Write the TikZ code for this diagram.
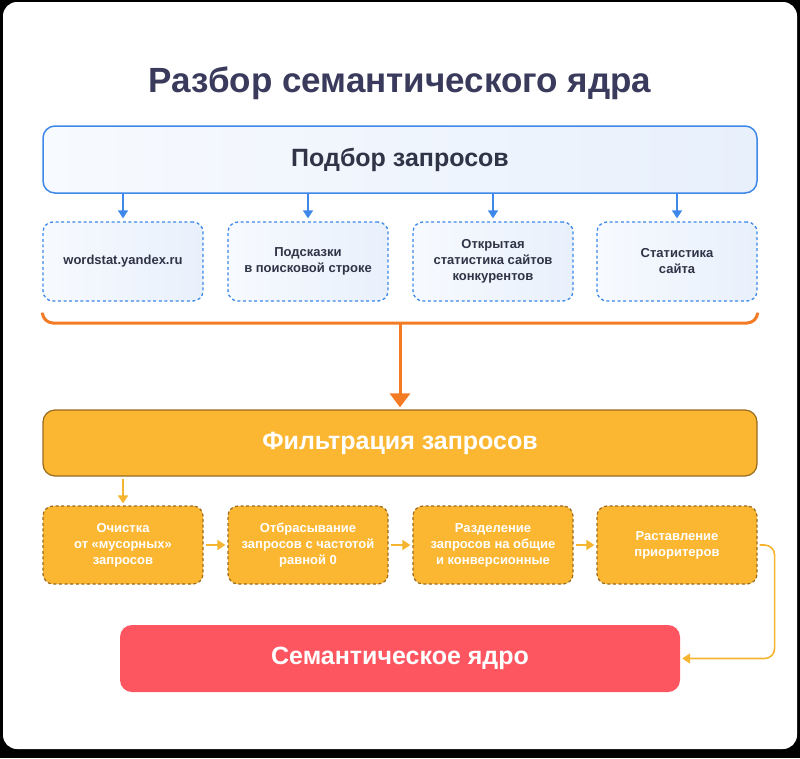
\documentclass[tikz,border=0pt]{standalone}
\usepackage{fontspec}
\setmainfont{Liberation Sans}
\usetikzlibrary{arrows.meta,calc}
\definecolor{titlec}{HTML}{3A3A5C}
\definecolor{navy}{HTML}{2F3447}
\definecolor{bluebd}{HTML}{3D88E8}
\definecolor{bluefillL}{HTML}{F7FAFE}
\definecolor{bluefillR}{HTML}{E8F0FC}
\definecolor{orng}{HTML}{F47B23}
\definecolor{gold}{HTML}{FBB732}
\definecolor{goldbd}{HTML}{9A6A1E}
\definecolor{goldarr}{HTML}{F6B530}
\definecolor{redbox}{HTML}{FE5661}
\begin{document}
\begin{tikzpicture}[x=1pt,y=-1pt,
  bigbox/.style={rectangle, rounded corners=12pt, minimum width=714pt, minimum height=67pt, inner sep=0pt,
    font=\bfseries\fontsize{25}{30}\selectfont},
  srcbox/.style={rectangle, rounded corners=10pt, draw=bluebd, line width=1.3pt, dash pattern=on 3pt off 2.6pt,
    left color=bluefillL, right color=bluefillR, minimum width=160pt, minimum height=79pt, inner sep=0pt,
    align=center, text=navy, font=\bfseries\fontsize{13}{16}\selectfont},
  filtbox/.style={rectangle, rounded corners=10pt, draw=goldbd, line width=1.2pt, dash pattern=on 3pt off 2.6pt,
    fill=gold, minimum width=160pt, minimum height=78pt, inner sep=0pt,
    align=center, text=white, font=\bfseries\fontsize{13}{16}\selectfont},
  bluearrow/.style={draw=bluebd, line width=1.6pt, -{Triangle[width=10pt,length=8pt]}, shorten >=3pt},
  goldarrow/.style={draw=goldarr, line width=1.6pt, -{Triangle[width=10pt,length=8pt]}, shorten >=2pt, shorten <=2pt}
]
\useasboundingbox (0,0) rectangle (800,758);
\fill[black] (0,0) rectangle (800,758);
\fill[white, rounded corners=14pt] (3,2) rectangle (797,749);

\node[font=\bfseries\fontsize{35}{42}\selectfont, text=titlec, anchor=base] (title) at (400,92) {Разбор семантического ядра};

\node[bigbox, draw=bluebd, line width=1.5pt, left color=bluefillL, right color=bluefillR, text=navy] (top) at (400,159.5) {Подбор запросов};

\node[srcbox] (s1) at (123,261.5) {wordstat.yandex.ru};
\node[srcbox] (s2) at (308,261.5) {Подсказки\\в поисковой строке};
\node[srcbox] (s3) at (493,261.5) {Открытая\\статистика сайтов\\конкурентов};
\node[srcbox] (s4) at (677,261.5) {Статистика\\сайта};

\foreach \s in {s1,s2,s3,s4}
  \draw[bluearrow] (top.south -| \s) -- (\s.north);

\coordinate (bl) at ($(s1.south west)+(0,11)$);
\coordinate (br) at ($(s4.south east)+(0,11)$);
\coordinate (bm) at (400,323);
\draw[orng, line width=3pt, rounded corners=10pt] (bl) -- (43,323) -- (757,323) -- (br);

\node[bigbox, draw=goldbd, line width=1.2pt, fill=gold, text=white, minimum height=66pt] (filt) at (400,443) {Фильтрация запросов};

\draw[orng, line width=3pt, -{Triangle[width=20pt,length=14pt]}, shorten >=2pt] (bm) -- (filt.north);

\node[filtbox] (f1) at (123,545) {Очистка\\от «мусорных»\\запросов};
\node[filtbox] (f2) at (308,545) {Отбрасывание\\запросов с частотой\\равной 0};
\node[filtbox] (f3) at (493,545) {Разделение\\запросов на общие\\и конверсионные};
\node[filtbox] (f4) at (677,545) {Раставление\\приоритеров};

\draw[goldarrow] (filt.south -| f1) -- (f1.north);
\draw[goldarrow] (f1.east) -- (f2.west);
\draw[goldarrow] (f2.east) -- (f3.west);
\draw[goldarrow] (f3.east) -- (f4.west);

\node[bigbox, fill=redbox, text=white, minimum width=560pt] (core) at (400,658.5) {Семантическое ядро};

\draw[goldarrow, rounded corners=10pt] (f4.east) -- ($(f4.east)+(17,0)$) |- (core.east);
\end{tikzpicture}
\end{document}
